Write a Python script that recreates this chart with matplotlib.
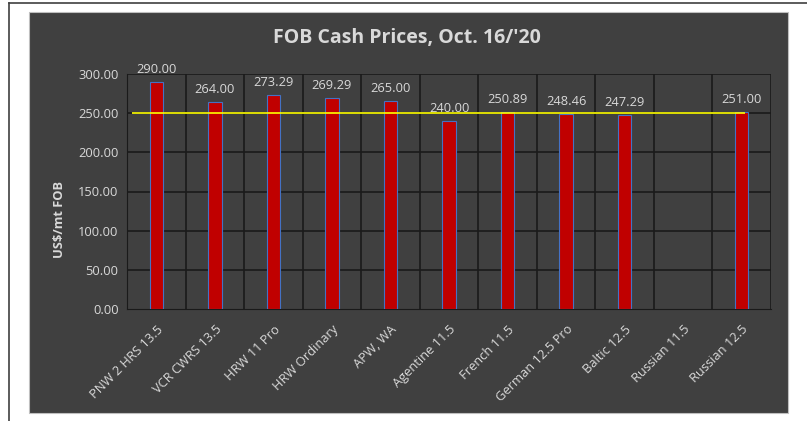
import matplotlib
matplotlib.use("Agg")
import matplotlib.pyplot as plt
from matplotlib.patches import Rectangle
from matplotlib.lines import Line2D
import numpy as np

categories = ["PNW 2 HRS 13.5", "VCR CWRS 13.5", "HRW 11 Pro", "HRW Ordinary",
              "APW, WA", "Agentine 11.5", "French 11.5", "German 12.5 Pro",
              "Baltic 12.5", "Russian 11.5", "Russian 12.5"]
prices = [290.00, 264.00, 273.29, 269.29, 265.00, 240.00, 250.89, 248.46,
          247.29, np.nan, 251.00]
reference_level = 250.0
yticks = [0, 50, 100, 150, 200, 250, 300]

plt.rcParams['font.family'] = ['Open Sans', 'DejaVu Sans']
W, H = 807, 421
fig = plt.figure(figsize=(W / 100, H / 100), dpi=100)
fig.patch.set_facecolor('white')

# outer frame lines
fig.add_artist(Line2D([9 / W, 1.0], [1 - 2.5 / H, 1 - 2.5 / H], color='#404040', lw=1.2,
                      transform=fig.transFigure, zorder=-2))
fig.add_artist(Line2D([9 / W, 9 / W], [0, 1 - 2.5 / H], color='#404040', lw=1.2,
                      transform=fig.transFigure, zorder=-2))
# dark chart panel
fig.add_artist(Rectangle((29 / W, 8 / H), (788 - 29) / W, (413 - 12) / H,
                         transform=fig.transFigure, facecolor='#404040',
                         edgecolor='#bfbfbf', lw=0.8, zorder=-1))

ax = fig.add_axes([127 / W, (H - 309) / H, (771 - 127) / W, (309 - 74) / H])
ax.set_facecolor('#404040')
x = np.arange(len(categories))
bars = ax.bar(x, prices, width=0.23, color='#c00000', edgecolor='#4472c4', lw=0.8, zorder=3)
ax.hlines(reference_level, -0.42, 10.05, color='#ffff00', lw=1.2, zorder=4)

fs = 9.3
for xi, v in zip(x, prices):
    if not np.isnan(v):
        ax.annotate(f"{v:.2f}", (xi, v), xytext=(0, 4.5), textcoords='offset points',
                    ha='center', va='bottom', color='#d9d9d9', fontsize=fs)

ax.set_xlim(-0.5, len(categories) - 0.5)
ax.set_ylim(0, 300)
ax.set_yticks(yticks)
ax.set_yticklabels([f"{t:.2f}" for t in yticks], color='#d9d9d9', fontsize=fs)
ax.set_xticks(x)
ax.set_xticklabels(categories, rotation=45, ha='right', rotation_mode='anchor',
                   color='#d9d9d9', fontsize=fs)
ax.tick_params(axis='both', length=0, pad=6)
ax.tick_params(axis='x', pad=10)

for yv in yticks[1:]:
    ax.axhline(yv, color='#1a1a1a', lw=1.2, zorder=1)
for b in np.arange(-0.5, len(categories), 1.0):
    ax.axvline(b, color='#1a1a1a', lw=1.2, zorder=1)
for s in ax.spines.values():
    s.set_visible(False)
ax.spines['bottom'].set_visible(True)
ax.spines['bottom'].set_color('#1a1a1a')
ax.spines['left'].set_visible(True)
ax.spines['left'].set_color('#1a1a1a')

ax.set_ylabel("US$/mt FOB", color='#d9d9d9', fontsize=fs, fontweight='bold')
ax.yaxis.set_label_coords(-0.094, 0.38)
fig.text(407 / W, 1 - 38 / H, "FOB Cash Prices, Oct. 16/'20", ha='center', va='center',
         color='#d9d9d9', fontsize=14, fontweight='bold')

fig.savefig("out.png", dpi=100, facecolor=fig.get_facecolor())
